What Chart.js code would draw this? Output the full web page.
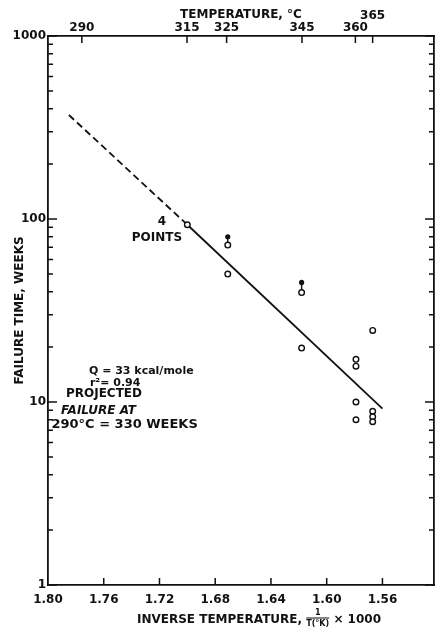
<!doctype html>
<html lang="en">

<head>
  <title>Failure time vs inverse temperature</title>
  <meta charset="utf-8" />
  <style>
    html, body { margin: 0; padding: 0; background: #fff; }
    #lienzo { display: block; }
  </style>
</head>

<body>
  <canvas id="lienzo" width="441" height="633"></canvas>
  <script src="https://cdn.jsdelivr.net/npm/chart.js"></script>
  <script>
    // failures: inverse temperature (1000/T, K) and failure time in weeks
    const failX = [1.700, 1.671, 1.671, 1.618, 1.618, 1.567, 1.579, 1.579, 1.579, 1.579, 1.567, 1.567, 1.567];
    const failY = [93, 72, 50, 39.6, 19.7, 24.6, 17.1, 15.7, 10.0, 8.0, 8.9, 8.3, 7.8];
    // specimens still running: small dot above the circle
    const runX = [1.671, 1.618];
    const runFromY = [72, 39.6];
    const runToY = [80, 45];
    // regression line, dashed part is the projection to 290 C
    const projX = [1.785, 1.700];
    const projY = [370, 93];
    const fitX = [1.700, 1.560];
    const fitY = [93, 9.2];
    // axis ticks
    const invTicks = [1.80, 1.76, 1.72, 1.68, 1.64, 1.60, 1.56];
    const tempTicks = [290, 315, 325, 345, 360, 365];
    const weekTicks = [1, 2, 3, 4, 5, 6, 7, 8, 9, 10, 20, 30, 40, 50, 60, 70, 80, 90,
      100, 200, 300, 400, 500, 600, 700, 800, 900, 1000];
    const weekLabels = [1, 10, 100, 1000];

    const ink = '#111';
    const fam = '"DejaVu Sans", "Liberation Sans", sans-serif';

    // text written on the plot, anchored in data units
    const notes = [
      { text: '4', x: 1.7182, y: 96, align: 'center', font: 'bold 12px' },
      { text: 'POINTS', x: 1.7218, y: 79, align: 'center', font: 'bold 12px' },
      { text: 'Q = 33 kcal/mole', x: 1.7706, y: 14.8, align: 'left', font: 'bold 11px' },
      { text: 'r²= 0.94', x: 1.7699, y: 12.7, align: 'left', font: 'bold 11px' },
      { text: 'PROJECTED', x: 1.7871, y: 11.06, align: 'left', font: 'bold 12px' },
      { text: 'FAILURE AT', x: 1.7907, y: 8.93, align: 'left', font: 'italic bold 12px' },
      { text: '290°C = 330 WEEKS', x: 1.7975, y: 7.49, align: 'left', font: 'bold 13px' }
    ];

    function tempToInv(t) { return 1000 / (t + 273.15); }

    const inwardTicks = {
      id: 'inwardTicks',
      afterDraw(chart) {
        const { ctx, chartArea: a, scales } = chart;
        ctx.save();
        ctx.strokeStyle = ink;
        ctx.lineWidth = 1.5;
        ctx.beginPath();
        invTicks.slice(1).forEach(v => {
          const px = scales.x.getPixelForValue(v);
          ctx.moveTo(px, a.bottom); ctx.lineTo(px, a.bottom - 7);
        });
        tempTicks.forEach(t => {
          const px = scales.x2.getPixelForValue(tempToInv(t));
          ctx.moveTo(px, a.top); ctx.lineTo(px, a.top + 7);
        });
        weekTicks.forEach(v => {
          const py = scales.y.getPixelForValue(v);
          const len = weekLabels.includes(v) ? 9 : 5;
          ctx.moveTo(a.left, py); ctx.lineTo(a.left + len, py);
          ctx.moveTo(a.right, py); ctx.lineTo(a.right - len, py);
        });
        ctx.stroke();

        // notes
        ctx.fillStyle = ink;
        ctx.textBaseline = 'middle';
        notes.forEach(n => {
          ctx.font = n.font + ' ' + fam;
          ctx.textAlign = n.align;
          ctx.fillText(n.text, scales.x.getPixelForValue(n.x), scales.y.getPixelForValue(n.y));
        });

        // bottom axis title with the 1/T(K) fraction
        const part1 = 'INVERSE TEMPERATURE, ';
        const part2 = ' × 1000';
        ctx.font = 'bold 12px ' + fam;
        const w1 = ctx.measureText(part1).width;
        const w2 = ctx.measureText(part2).width;
        ctx.font = 'bold 8px ' + fam;
        const wf = ctx.measureText('T(°K)').width;
        const cx = (a.left + a.right) / 2 + 18;
        const ty = a.bottom + 35;
        let x0 = cx - (w1 + wf + w2) / 2;
        ctx.textAlign = 'left';
        ctx.font = 'bold 12px ' + fam;
        ctx.fillText(part1, x0, ty);
        x0 += w1;
        ctx.font = 'bold 8px ' + fam;
        ctx.textAlign = 'center';
        ctx.fillText('1', x0 + wf / 2, ty - 7.5);
        ctx.fillText('T(°K)', x0 + wf / 2, ty + 4);
        ctx.lineWidth = 1;
        ctx.beginPath();
        ctx.moveTo(x0, ty - 2); ctx.lineTo(x0 + wf, ty - 2);
        ctx.stroke();
        x0 += wf;
        ctx.textAlign = 'left';
        ctx.font = 'bold 12px ' + fam;
        ctx.fillText(part2, x0, ty);
        ctx.restore();
      }
    };

    const tickFont = { family: fam, weight: 'bold', size: 12, lineHeight: 1 };
    const axisBorder = { color: ink, width: 1.8 };
    const noGrid = { display: false, drawTicks: false };

    const datasets = [{
      data: failX.map((x, i) => ({ x: x, y: failY[i] })),
      pointRadius: 2.8,
      pointBorderWidth: 1.4,
      pointBorderColor: ink,
      pointBackgroundColor: '#fff'
    }, {
      type: 'line',
      data: projX.map((x, i) => ({ x: x, y: projY[i] })),
      showLine: true,
      borderColor: ink,
      borderWidth: 1.8,
      borderDash: [7, 4],
      pointRadius: 0
    }, {
      type: 'line',
      data: fitX.map((x, i) => ({ x: x, y: fitY[i] })),
      showLine: true,
      borderColor: ink,
      borderWidth: 1.8,
      pointRadius: 0
    }];
    runX.forEach((x, i) => {
      datasets.push({
        type: 'line',
        data: [{ x: x, y: runFromY[i] }, { x: x, y: runToY[i] }],
        showLine: true,
        borderColor: ink,
        borderWidth: 1.4,
        pointRadius: [0, 1.9],
        pointBackgroundColor: ink,
        pointBorderColor: ink
      });
    });

    const grafico = new Chart(document.querySelector('#lienzo'), {
      type: 'scatter',
      data: { datasets: datasets },
      options: {
        responsive: false,
        animation: false,
        devicePixelRatio: 1,
        layout: { padding: 0 },
        plugins: { legend: { display: false }, tooltip: { enabled: false } },
        scales: {
          x: {
            type: 'linear', position: 'bottom', min: 1.523, max: 1.80, reverse: true,
            grid: noGrid, border: axisBorder,
            ticks: { autoSkip: false, maxRotation: 0, padding: 9, color: ink, font: tickFont,
              callback: v => v.toFixed(2) },
            afterBuildTicks: s => { s.ticks = invTicks.map(v => ({ value: v })); },
            afterFit: s => { s.height = 48; }
          },
          x2: {
            type: 'linear', position: 'top', min: 1.523, max: 1.80, reverse: true,
            grid: noGrid, border: axisBorder,
            ticks: { autoSkip: false, maxRotation: 0, padding: 2, color: ink, font: tickFont,
              callback: v => {
                const t = String(Math.round(1000 / v - 273.15));
                return t === '365' ? [t, ''] : t;
              } },
            afterBuildTicks: s => { s.ticks = tempTicks.map(t => ({ value: tempToInv(t) })); },
            afterFit: s => { s.height = 36; },
            title: { display: true, text: 'TEMPERATURE, °C', color: ink,
              font: { family: fam, weight: 'bold', size: 12, lineHeight: 1 },
              padding: { top: 9, bottom: 0 } }
          },
          y: {
            type: 'logarithmic', position: 'left', min: 1, max: 1000,
            grid: noGrid, border: axisBorder,
            ticks: { autoSkip: false, padding: 2, color: ink, font: tickFont,
              callback: v => weekLabels.includes(v) ? String(v) : '' },
            afterBuildTicks: s => { s.ticks = weekTicks.map(v => ({ value: v })); },
            afterFit: s => { s.width = 48; },
            title: { display: true, text: 'FAILURE TIME, WEEKS', color: ink,
              font: { family: fam, weight: 'bold', size: 12, lineHeight: 1 },
              padding: { top: 14, bottom: 0 } }
          },
          y2: {
            type: 'logarithmic', position: 'right', min: 1, max: 1000,
            grid: noGrid, border: axisBorder,
            ticks: { display: false },
            afterFit: s => { s.width = 7; }
          }
        }
      },
      plugins: [inwardTicks]
    });
  </script>
</body>

</html>
